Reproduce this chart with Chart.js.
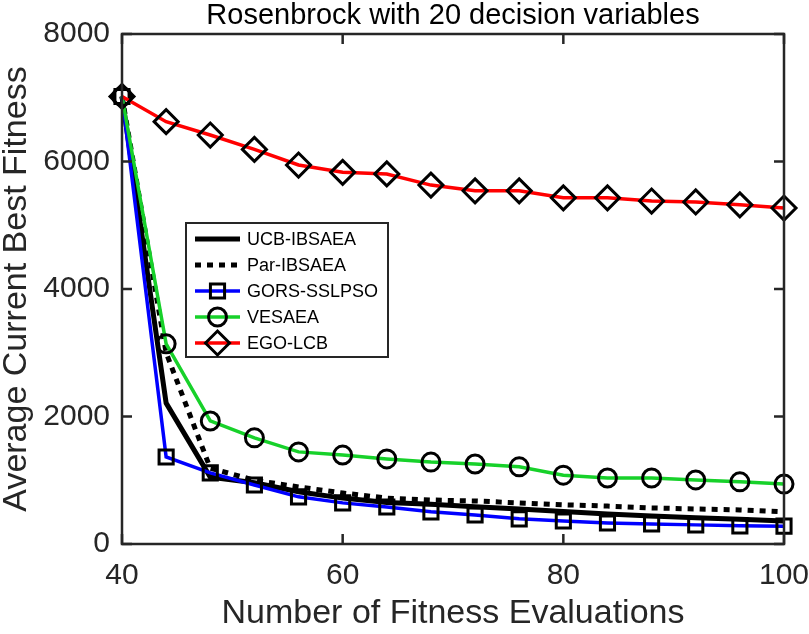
<!DOCTYPE html>
<html>
<head>
<meta charset="utf-8">
<script src="https://cdn.jsdelivr.net/npm/chart.js@4.4.0/dist/chart.umd.min.js"></script>
<style>
  html, body { margin: 0; padding: 0; background: #fff; }
</style>
</head>
<body>
<canvas id="lineChart" width="809" height="634"></canvas>
<script>
// data
var evals = [40, 44, 48, 52, 56, 60, 64, 68, 72, 76, 80, 84, 88, 92, 96, 100];
var ucbIbsaea = [7020, 2210, 1050, 960, 820, 720, 650, 625, 585, 550, 510, 470, 440, 410, 390, 360];
var parIbsaea = [7020, 3000, 1190, 1000, 895, 800, 720, 690, 675, 645, 615, 595, 565, 550, 535, 505];
var gorsSslpso = [7020, 1365, 1115, 925, 740, 645, 580, 505, 455, 395, 360, 330, 315, 300, 285, 280];
var vesaea = [7020, 3140, 1930, 1665, 1445, 1395, 1335, 1285, 1255, 1210, 1080, 1035, 1035, 1005, 975, 940];
var egoLcb = [7020, 6625, 6415, 6190, 5945, 5830, 5805, 5630, 5540, 5540, 5430, 5430, 5380, 5365, 5320, 5270];
var xTicks = [40, 60, 80, 100];
var yTicks = [0, 2000, 4000, 6000, 8000];
var chartTitle = 'Rosenbrock with 20 decision variables';

var axisColor = '#262626';
var fontName = '"Liberation Sans", Arial, Helvetica, sans-serif';

function pts(vals) {
  var out = [];
  for (var i = 0; i < evals.length; i++) out.push({x: evals[i], y: vals[i]});
  return out;
}

function series(label, vals, color, width, dash, marker, radius, order) {
  return {
    label: label,
    data: pts(vals),
    borderColor: color,
    borderWidth: width,
    borderDash: dash,
    borderCapStyle: 'butt',
    pointStyle: marker || 'circle',
    pointRadius: marker ? radius : 0,
    pointHoverRadius: marker ? radius : 0,
    pointBorderColor: '#000',
    pointBackgroundColor: 'rgba(0,0,0,0)',
    pointBorderWidth: 3,
    tension: 0,
    clip: false,
    order: order
  };
}

var datasets = [
  series('UCB-IBSAEA', ucbIbsaea, '#000000', 5, [], null, 0, 4),
  series('Par-IBSAEA', parIbsaea, '#000000', 5, [6, 6], null, 0, 3),
  series('GORS-SSLPSO', gorsSslpso, '#0000ff', 3.5, [], 'rect', 10, 2),
  series('VESAEA', vesaea, '#17d12a', 3.5, [], 'circle', 9, 1),
  series('EGO-LCB', egoLcb, '#ff0000', 3.5, [], 'rectRot', 12, 0)
];

// box + inward ticks like matlab, title centred over the axes
var framePlugin = {
  id: 'frame',
  afterDatasetsDraw: function(chart) {
    var ctx = chart.ctx, a = chart.chartArea;
    var xs = chart.scales.x, ys = chart.scales.y;
    ctx.save();
    ctx.strokeStyle = axisColor;
    ctx.lineWidth = 2.5;
    ctx.strokeRect(a.left, a.top, a.right - a.left, a.bottom - a.top);
    ctx.beginPath();
    for (var i = 0; i < xTicks.length; i++) {
      var px = xs.getPixelForValue(xTicks[i]);
      ctx.moveTo(px, a.bottom); ctx.lineTo(px, a.bottom - 10);
      ctx.moveTo(px, a.top); ctx.lineTo(px, a.top + 10);
    }
    for (var j = 0; j < yTicks.length; j++) {
      var py = ys.getPixelForValue(yTicks[j]);
      ctx.moveTo(a.left, py); ctx.lineTo(a.left + 10, py);
      ctx.moveTo(a.right, py); ctx.lineTo(a.right - 10, py);
    }
    ctx.stroke();
    ctx.fillStyle = '#000';
    ctx.font = '29px ' + fontName;
    ctx.textAlign = 'center';
    ctx.textBaseline = 'middle';
    ctx.fillText(chartTitle, (a.left + a.right) / 2, 16);
    ctx.restore();
  }
};

// legend box inside the axes
var legendPlugin = {
  id: 'boxLegend',
  afterDraw: function(chart) {
    var ctx = chart.ctx;
    var bx = 186, by = 223, bw = 202, bh = 134;
    ctx.save();
    ctx.fillStyle = '#fff';
    ctx.fillRect(bx, by, bw, bh);
    ctx.strokeStyle = axisColor;
    ctx.lineWidth = 2;
    ctx.strokeRect(bx, by, bw, bh);
    ctx.font = '18px ' + fontName;
    ctx.textBaseline = 'middle';
    for (var i = 0; i < datasets.length; i++) {
      var d = datasets[i];
      var y = by + 16 + i * 26;
      ctx.strokeStyle = d.borderColor;
      ctx.lineWidth = d.borderWidth;
      ctx.setLineDash(d.borderDash);
      ctx.lineCap = 'butt';
      ctx.beginPath();
      ctx.moveTo(195, y); ctx.lineTo(240, y);
      ctx.stroke();
      ctx.setLineDash([]);
      if (d.pointRadius > 0) {
        ctx.strokeStyle = '#000';
        ctx.fillStyle = 'rgba(0,0,0,0)';
        ctx.lineWidth = 3;
        Chart.helpers.drawPoint(ctx, {pointStyle: d.pointStyle, radius: d.pointRadius, rotation: 0, borderWidth: 3}, 217.5, y);
      }
      ctx.fillStyle = '#000';
      ctx.fillText(d.label, 247, y + 1);
    }
    ctx.restore();
  }
};

var ctxL = document.getElementById('lineChart').getContext('2d');
var myLineChart = new Chart(ctxL, {
  type: 'line',
  data: { datasets: datasets },
  plugins: [framePlugin, legendPlugin],
  options: {
    responsive: false,
    animation: false,
    layout: { padding: { left: 0, right: 0, top: 34, bottom: 0 } },
    plugins: {
      legend: { display: false },
      tooltip: { enabled: false },
      title: { display: false }
    },
    scales: {
      x: {
        type: 'linear',
        min: 40, max: 100,
        afterFit: function(s) { s.height = 90; s.paddingRight = 25; s.paddingLeft = 0; },
        afterBuildTicks: function(s) { s.ticks = xTicks.map(function(v) { return {value: v}; }); },
        grid: { display: false, drawTicks: false },
        border: { display: false },
        ticks: {
          color: axisColor, padding: 14, maxRotation: 0,
          font: { family: fontName, size: 30 },
          callback: function(v) { return String(v); }
        },
        title: {
          display: true, text: 'Number of Fitness Evaluations', color: axisColor,
          font: { family: fontName, size: 34 }, padding: 0
        }
      },
      y: {
        min: 0, max: 8000,
        afterFit: function(s) { s.width = 122; },
        afterBuildTicks: function(s) { s.ticks = yTicks.map(function(v) { return {value: v}; }); },
        grid: { display: false, drawTicks: false },
        border: { display: false },
        ticks: {
          color: axisColor, padding: 12,
          font: { family: fontName, size: 30 },
          callback: function(v) { return String(v); }
        },
        title: {
          display: true, text: 'Average Current Best Fitness', color: axisColor,
          font: { family: fontName, size: 34 }, padding: { top: -4, bottom: 0 }
        }
      }
    }
  }
});
</script>
</body>
</html>
